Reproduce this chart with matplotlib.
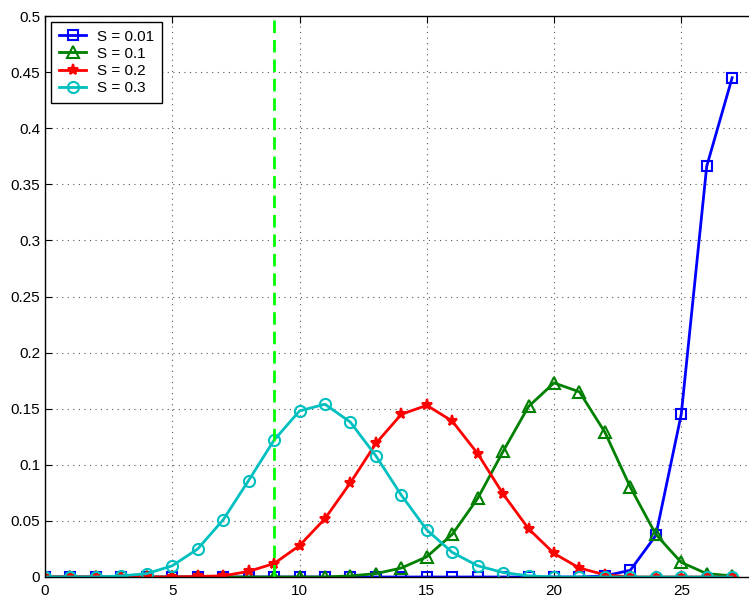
import numpy as np
import matplotlib.pyplot as plt
from matplotlib.ticker import FuncFormatter

plt.rcParams['font.family'] = ['Liberation Sans', 'DejaVu Sans']

# dati
x = np.arange(0, 28)
s001 = [0, 0, 0, 0, 0, 0, 0, 0, 0, 0, 0, 0, 0, 0, 0, 0, 0, 0, 0, 0,
        0, 0, 0.001, 0.006, 0.037, 0.145, 0.366, 0.445]
s01 = [0, 0, 0, 0, 0, 0, 0, 0, 0, 0, 0, 0, 0.001, 0.003, 0.008, 0.018, 0.038,
       0.070, 0.112, 0.152, 0.173, 0.165, 0.129, 0.080, 0.038, 0.013, 0.003, 0.001]
s02 = [0, 0, 0, 0, 0, 0, 0.0005, 0.001, 0.005, 0.012, 0.028, 0.052, 0.084, 0.119,
       0.145, 0.153, 0.139, 0.110, 0.074, 0.043, 0.021, 0.008, 0.002, 0, 0, 0, 0, 0]
s03 = [0, 0, 0, 0.001, 0.003, 0.010, 0.025, 0.051, 0.086, 0.122, 0.148, 0.154,
       0.138, 0.108, 0.073, 0.042, 0.022, 0.010, 0.004, 0.001, 0, 0, 0, 0, 0, 0, 0, 0]
soglia = 9

fig = plt.figure(figsize=(7.49, 5.97), dpi=100)
# l'asse continua oltre il bordo destro (x fino a 28)
ax = fig.add_axes([45 / 749, 20 / 597, 712.6 / 749, 561 / 597])

ax.plot(x, s001, '-s', color='#0000ff', lw=2, ms=7, mfc='none', mew=1.5, label='S = 0.01')
ax.plot(x, s01, '-^', color='#008000', lw=2, ms=8, mfc='none', mew=1.5, label='S = 0.1')
ax.plot(x, s02, '-*', color='#ff0000', lw=2, ms=8, mew=1.5, label='S = 0.2')
ax.plot(x, s03, '-o', color='#00bfbf', lw=2, ms=8, mfc='none', mew=1.5, label='S = 0.3')
ax.plot([soglia, soglia], [0, 0.5], color='#00ff00', lw=2, dashes=(4.5, 2.5))

ax.set_xlim(0, 28)
ax.set_ylim(0, 0.5)
ax.set_xticks(np.arange(0, 26, 5))
ax.set_yticks(np.arange(0, 0.501, 0.05))
ax.yaxis.set_major_formatter(FuncFormatter(lambda v, p: f'{v:.2f}'.rstrip('0').rstrip('.') if v else '0'))
ax.tick_params(direction='in', labelsize=11, top=True, right=True, length=5)
ax.tick_params(axis='x', pad=5)
ax.grid(True, linestyle=(0, (1, 4)), color='#555555', lw=0.8)
for sp in ax.spines.values():
    sp.set_linewidth(1)

leg = ax.legend(loc='upper left', fontsize=11, fancybox=False, edgecolor='black',
                framealpha=1, borderpad=0.5, labelspacing=0.2, handlelength=1.8,
                handletextpad=0.7, borderaxespad=0.4)
leg.get_frame().set_linewidth(1)

fig.savefig('out.png', dpi=100)
